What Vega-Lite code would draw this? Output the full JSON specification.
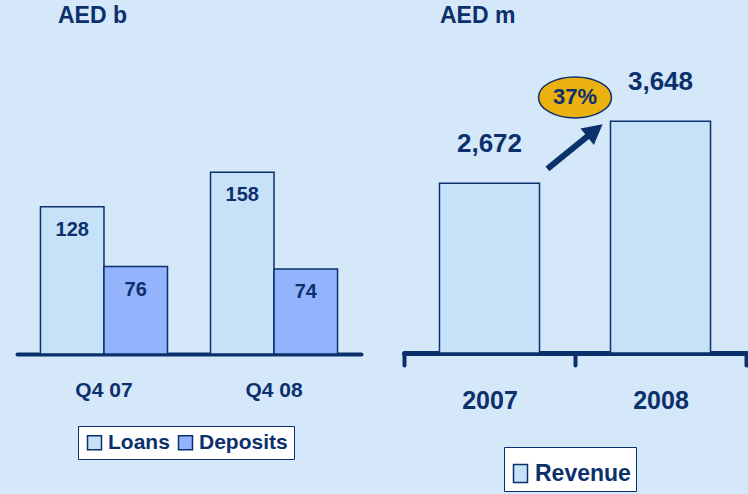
{
  "$schema": "https://vega.github.io/schema/vega-lite/v6.json",
  "background": "#D5E8FA",
  "padding": {"left": 17, "top": 5, "right": 2, "bottom": 2},
  "spacing": 43,
  "bounds": "flush",
  "resolve": {"scale": {"color": "independent", "x": "independent", "y": "independent"}, "legend": {"color": "independent"}},
  "config": {
    "view": {"stroke": null},
    "font": "Liberation Sans",
    "text": {"font": "Liberation Sans"}
  },
  "datasets": {
    "balance": [
      {"quarter": "Q4 07", "series": "Loans", "value": 128},
      {"quarter": "Q4 07", "series": "Deposits", "value": 76},
      {"quarter": "Q4 08", "series": "Loans", "value": 158},
      {"quarter": "Q4 08", "series": "Deposits", "value": 74}
    ],
    "revenue": [
      {"year": "2007", "series": "Revenue", "value": 2672},
      {"year": "2008", "series": "Revenue", "value": 3648}
    ],
    "growth": [{"year": "2008", "value": 4024, "label": "37%"}],
    "arrow": [{"year": "2008", "value": 3252}]
  },
  "hconcat": [
    {
      "width": 344,
      "height": 313,
      "title": {"text": "AED b", "anchor": "start", "dx": 41, "offset": 13, "baseline": "top", "fontSize": 23, "fontWeight": "bold", "color": "#0C306B", "font": "Liberation Sans"},
      "data": {"name": "balance"},
      "encoding": {
        "x": {
          "field": "quarter", "type": "nominal", "sort": ["Q4 07", "Q4 08"],
          "scale": {"paddingInner": 0.253, "paddingOuter": 0.138},
          "axis": {"title": null, "labelAngle": 0, "ticks": false, "tickSize": 0, "domainWidth": 4, "domainColor": "#0C306B", "domainCap": "round", "labelPadding": 36, "labelBaseline": "middle", "labelFontSize": 21, "labelFontWeight": "bold", "labelColor": "#0C306B", "labelFont": "Liberation Sans"}
        },
        "xOffset": {"field": "series", "type": "nominal", "sort": ["Loans", "Deposits"], "scale": {"paddingInner": 0, "paddingOuter": 0}},
        "y": {"field": "value", "type": "quantitative", "scale": {"domain": [0, 272.2], "nice": false}, "axis": null}
      },
      "layer": [
        {
          "mark": {"type": "bar", "stroke": "#0C306B", "strokeWidth": 1.5},
          "encoding": {
            "color": {
              "field": "series", "type": "nominal", "sort": ["Loans", "Deposits"],
              "scale": {"domain": ["Loans", "Deposits"], "range": ["#C7E1F9", "#94B3FD"]},
              "legend": {"title": null, "orient": "none", "legendX": 61, "legendY": 385, "direction": "horizontal", "symbolType": "square", "symbolSize": 196, "symbolStrokeColor": "#0C306B", "symbolStrokeWidth": 1.5, "labelFontSize": 21, "labelFontWeight": "bold", "labelColor": "#0C306B", "labelFont": "Liberation Sans", "fillColor": "white", "strokeColor": "#0C306B", "padding": 6, "columnPadding": 5, "labelOffset": 3}
            }
          }
        },
        {
          "mark": {"type": "text", "dy": 23, "baseline": "middle", "fontSize": 20, "fontWeight": "bold", "color": "#0C306B"},
          "encoding": {"text": {"field": "value", "type": "quantitative"}}
        }
      ]
    },
    {
      "width": 342,
      "height": 312,
      "title": {"text": "AED m", "anchor": "start", "dx": 38, "offset": 13, "baseline": "top", "fontSize": 23, "fontWeight": "bold", "color": "#0C306B", "font": "Liberation Sans"},
      "encoding": {
        "x": {
          "field": "year", "type": "nominal", "sort": ["2007", "2008"],
          "scale": {"domain": ["2007", "2008"], "paddingInner": 0, "paddingOuter": 0},
          "axis": {"title": null, "labelAngle": 0, "tickBand": "extent", "tickSize": 12, "tickWidth": 4, "tickColor": "#0C306B", "tickCap": "round", "domainWidth": 5, "domainColor": "#0C306B", "domainCap": "round", "labelPadding": 35, "labelBaseline": "middle", "labelFontSize": 25, "labelFontWeight": "bold", "labelColor": "#0C306B", "labelFont": "Liberation Sans"}
        },
        "y": {"field": "value", "type": "quantitative", "scale": {"domain": [0, 4913], "nice": false}, "axis": null}
      },
      "layer": [
        {
          "data": {"name": "revenue"},
          "mark": {"type": "bar", "stroke": "#0C306B", "strokeWidth": 1.5, "width": {"band": 0.585}},
          "encoding": {
            "color": {
              "field": "series", "type": "nominal",
              "scale": {"domain": ["Revenue"], "range": ["#C7E1F9"]},
              "legend": {"title": " ", "titleFontSize": 8, "titlePadding": 2, "orient": "none", "legendX": 100, "legendY": 406, "symbolType": "M-1,-1.29H1V1.29H-1Z", "symbolSize": 196, "symbolStrokeColor": "#0C306B", "symbolStrokeWidth": 1.5, "labelFontSize": 23, "labelFontWeight": "bold", "labelColor": "#0C306B", "labelFont": "Liberation Sans", "fillColor": "white", "strokeColor": "#0C306B", "padding": 5, "labelOffset": 3}
            }
          }
        },
        {
          "data": {"name": "revenue"},
          "mark": {"type": "text", "dy": -39, "baseline": "middle", "fontSize": 26, "fontWeight": "bold", "color": "#0C306B"},
          "encoding": {"text": {"field": "value", "type": "quantitative", "format": ","}}
        },
        {
          "data": {"name": "arrow"},
          "mark": {"type": "point", "shape": "M-1,-0.085L0.44,-0.085L0.44,-0.3L1,0L0.44,0.3L0.44,0.085L-1,0.085Z", "size": 5041, "angle": 321, "filled": true, "fill": "#0C306B", "opacity": 1, "strokeWidth": 0},
          "encoding": {"x": {"field": "year", "type": "nominal", "bandPosition": 0}}
        },
        {
          "data": {"name": "growth"},
          "mark": {"type": "point", "shape": "M-1,0C-1,-0.31,-0.5523,-0.562,0,-0.562C0.5523,-0.562,1,-0.31,1,0C1,0.31,0.5523,0.562,0,0.562C-0.5523,0.562,-1,0.31,-1,0Z", "size": 5329, "filled": true, "fill": "#EBB20F", "stroke": "#0C306B", "strokeWidth": 1.5, "opacity": 1},
          "encoding": {"x": {"field": "year", "type": "nominal", "bandPosition": 0}}
        },
        {
          "data": {"name": "growth"},
          "mark": {"type": "text", "baseline": "middle", "fontSize": 22, "fontWeight": "bold", "color": "#0C306B"},
          "encoding": {"x": {"field": "year", "type": "nominal", "bandPosition": 0}, "text": {"field": "label"}}
        }
      ]
    }
  ]
}
